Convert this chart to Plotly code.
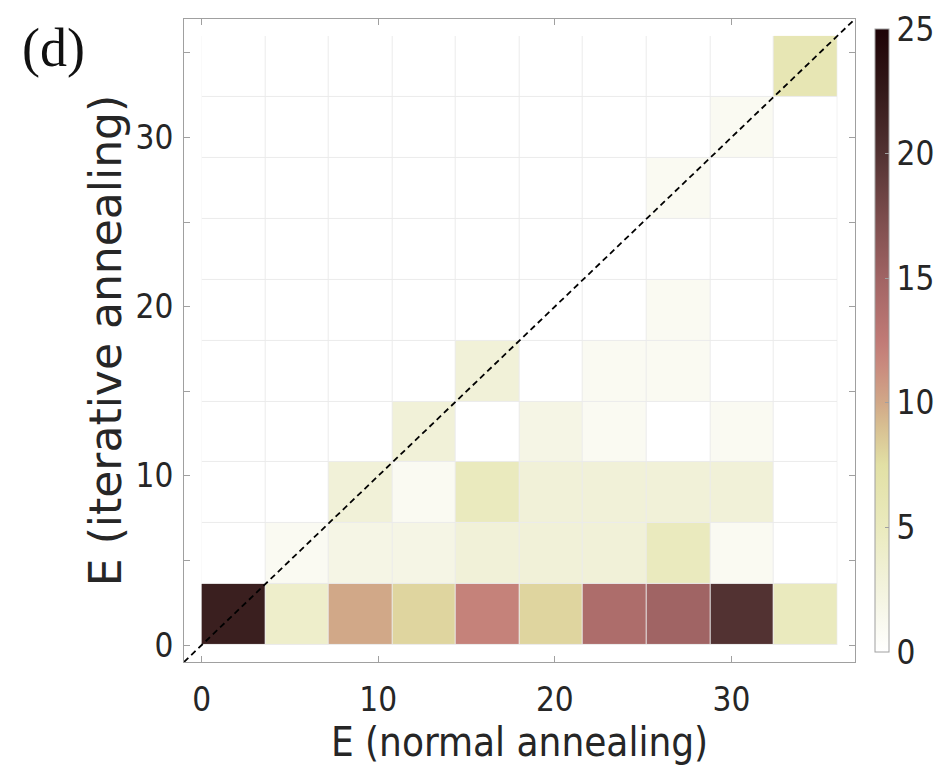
import plotly.graph_objects as go

# ---------------- data ----------------
bin_edges = [0, 3.6, 7.2, 10.8, 14.4, 18.0, 21.6, 25.2, 28.8, 32.4, 36.0]

# counts[row][col]; row 0 = lowest E (iterative), col 0 = lowest E (normal)
counts = [
    [22, 4, 10, 8, 12, 8, 14, 15, 20, 5],
    [0, 1, 2, 2, 3, 3, 3, 5, 1, 0],
    [0, 0, 3, 1, 5, 3, 3, 3, 3, 0],
    [0, 0, 0, 3, 0, 2, 1, 0, 1, 0],
    [0, 0, 0, 0, 3, 0, 1, 1, 0, 0],
    [0, 0, 0, 0, 0, 0, 0, 1, 0, 0],
    [0, 0, 0, 0, 0, 0, 0, 0, 0, 0],
    [0, 0, 0, 0, 0, 0, 0, 1, 0, 0],
    [0, 0, 0, 0, 0, 0, 0, 0, 1, 0],
    [0, 0, 0, 0, 0, 0, 0, 0, 0, 6],
]

diag = [-1, 37]

x_tickvals = [0, 10, 20, 30]
x_ticktext = ["0", "10", "20", "30"]
y_tickvals = [0, 5, 10, 15, 20, 25, 30, 35]
y_ticktext = ["0", "", "10", "", "20", "", "30", ""]
cb_tickvals = [0, 5, 10, 15, 20, 25]

c_min, c_max = 0, 25
# colormap samples (count value, colour)
cmap_values = [0, 2.5, 5, 7.5, 9, 10, 11.5, 12.5, 15, 17.5, 20, 22.5, 25]
cmap_colors = ["rgb(255,255,255)", "rgb(243,243,222)", "rgb(234,234,190)",
               "rgb(226,224,165)", "rgb(216,192,146)", "rgb(209,168,136)",
               "rgb(201,138,126)", "rgb(192,122,118)", "rgb(160,100,100)",
               "rgb(122,76,76)", "rgb(82,50,50)", "rgb(52,26,26)",
               "rgb(30,3,6)"]

x_title = "E (normal annealing)"
y_title = "E (iterative annealing)"
panel_label = "(d)"

# ---------------- figure ----------------
colorscale = [[(v - c_min) / (c_max - c_min), c] for v, c in zip(cmap_values, cmap_colors)]

TICK_FONT = dict(family="DejaVu Sans Condensed, DejaVu Sans", size=33, color="#262626")
AX_COLOR = "#a0a0a0"

fig = go.Figure()

fig.add_trace(go.Heatmap(
    x=bin_edges, y=bin_edges, z=counts,
    zmin=c_min, zmax=c_max, colorscale=colorscale,
    xgap=1, ygap=1,
    colorbar=dict(
        x=1.03, xanchor="left", xpad=0,
        y=0.5, yanchor="middle", yref="paper",
        lenmode="pixels", len=643, thickness=14,
        outlinecolor=AX_COLOR, outlinewidth=1,
        tickvals=cb_tickvals, ticks="inside", ticklen=4, tickcolor=AX_COLOR,
        tickfont=TICK_FONT,
    ),
))

fig.add_trace(go.Scatter(
    x=diag, y=diag, mode="lines",
    line=dict(color="black", width=1.8, dash="6px,4px"),
    showlegend=False, hoverinfo="skip",
))

# light background under the tiles so tile edges show as light grid lines
fig.add_shape(type="rect", x0=bin_edges[0], x1=bin_edges[-1], y0=bin_edges[0], y1=bin_edges[-1],
              xref="x", yref="y", layer="below", line=dict(width=0),
              fillcolor="rgb(235,235,235)")

fig.update_xaxes(
    range=[-1, 37], tickvals=x_tickvals, ticktext=x_ticktext,
    showgrid=False, zeroline=False,
    showline=True, linecolor=AX_COLOR, linewidth=1, mirror="ticks",
    ticks="inside", ticklen=6, tickcolor=AX_COLOR,
    tickfont=TICK_FONT, ticklabelstandoff=8,
    title=dict(text=x_title, standoff=6,
               font=dict(family="DejaVu Sans Condensed, DejaVu Sans", size=40, color="#262626")),
)
fig.update_yaxes(
    range=[-1, 37], tickvals=y_tickvals, ticktext=y_ticktext,
    showgrid=False, zeroline=False,
    showline=True, linecolor=AX_COLOR, linewidth=1, mirror="ticks",
    ticks="inside", ticklen=6, tickcolor=AX_COLOR,
    tickfont=TICK_FONT, ticklabelstandoff=3,
    title=dict(text=y_title, standoff=0,
               font=dict(family="DejaVu Sans", size=44, color="#262626")),
)

fig.add_annotation(
    text=panel_label, xref="paper", yref="paper",
    x=-0.195, y=0.955, xanchor="center", yanchor="middle", showarrow=False,
    font=dict(family="Liberation Serif, DejaVu Serif", size=54, color="#111111"),
)

fig.update_layout(
    width=951, height=765,
    margin=dict(l=184, r=95, t=19, b=101),
    paper_bgcolor="white", plot_bgcolor="white",
    showlegend=False,
)

fig.write_html("out.html")
